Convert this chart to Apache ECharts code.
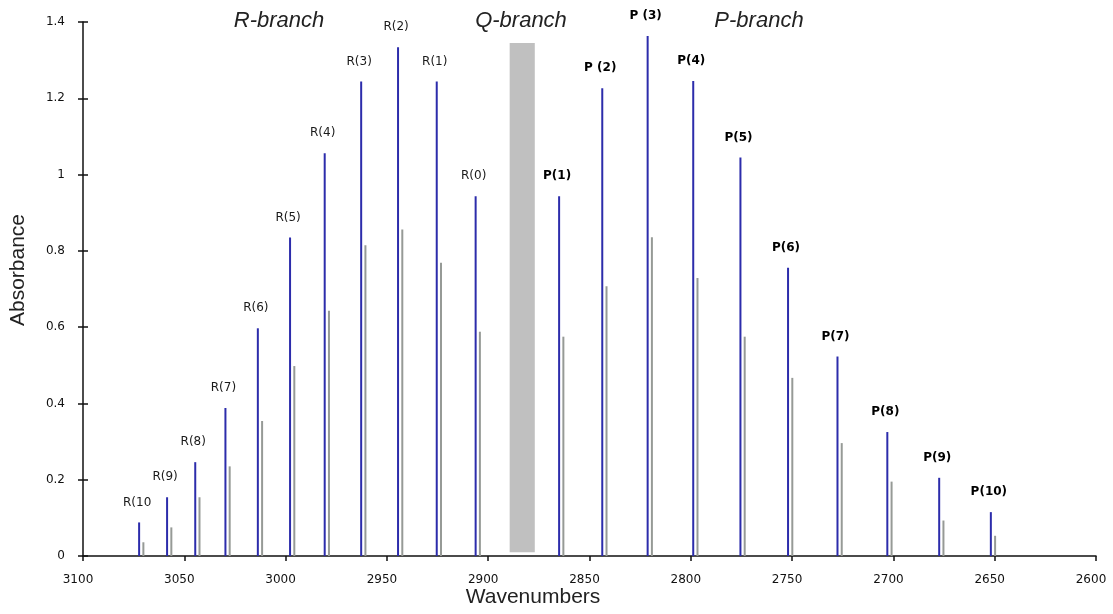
<!DOCTYPE html>
<html>
<head>
<meta charset="utf-8">
<script src="https://cdn.jsdelivr.net/npm/echarts@6/dist/echarts.min.js"></script>
<style>
html,body{margin:0;padding:0;background:#fff;}
#chart{width:1113px;height:614px;}
</style>
</head>
<body>
<div id="chart"></div>
<script>
// ---- data ----
var rLabels = ['R(10','R(9)','R(8)','R(7)','R(6)','R(5)','R(4)','R(3)','R(2)','R(1)','R(0)'];
var rWave = [3072.3, 3058.5, 3044.6, 3029.7, 3013.7, 2997.8, 2980.7, 2962.7, 2944.5, 2925.4, 2906.2];
var rBlue = [0.088, 0.154, 0.246, 0.388, 0.597, 0.835, 1.056, 1.244, 1.334, 1.244, 0.943];
var rGrayWave = [3070.2, 3056.4, 3042.5, 3027.6, 3011.6, 2995.7, 2978.6, 2960.6, 2942.4, 2923.3, 2904.1];
var rGray = [0.036, 0.075, 0.154, 0.235, 0.354, 0.498, 0.643, 0.815, 0.856, 0.769, 0.588];

var pLabels = ['P(1)','P (2)','P (3)','P(4)','P(5)','P(6)','P(7)','P(8)','P(9)','P(10)'];
var pWave = [2865.0, 2843.7, 2821.3, 2798.8, 2775.5, 2752.0, 2727.6, 2703.0, 2677.4, 2651.9];
var pBlue = [0.943, 1.226, 1.363, 1.245, 1.045, 0.756, 0.523, 0.325, 0.205, 0.115];
var pGrayWave = [2862.9, 2841.6, 2819.2, 2796.7, 2773.4, 2749.9, 2725.5, 2700.9, 2675.3, 2649.8];
var pGray = [0.575, 0.707, 0.836, 0.729, 0.575, 0.467, 0.296, 0.195, 0.093, 0.053];

var qBandWave = [2889.4, 2877.0];
var qBandAbs = [0.01, 1.345];

var xTicks = [2600, 3100, 50];
var yTicks = [0, 1.4, 0.2];

var branchTitles = ['R-branch', 'Q-branch', 'P-branch'];
var xName = 'Wavenumbers';
var yName = 'Absorbance';

// ---- chart ----
var BLUE = '#2c2cab';
var GRAY = '#969a96';

function zip(a, b) { return a.map(function (v, i) { return [v, b[i]]; }); }

function stickRenderer(color, labels, bold) {
  return function (params, api) {
    var x = api.value(0), y = api.value(1);
    var p0 = api.coord([x, 0]);
    var p1 = api.coord([x, y]);
    var children = [{
      type: 'line',
      shape: { x1: p0[0], y1: p0[1], x2: p1[0], y2: p1[1] },
      style: { stroke: color, lineWidth: 2 }
    }];
    if (labels) {
      children.push({
        type: 'text',
        style: {
          text: labels[params.dataIndex],
          x: p1[0] - 2, y: p1[1] - 20,
          align: 'center', verticalAlign: 'middle',
          fontSize: 12, fontFamily: 'DejaVu Sans',
          fontWeight: bold ? 'bold' : 'normal',
          fill: bold ? '#000' : '#1a1a1a'
        }
      });
    }
    return { type: 'group', children: children };
  };
}

var chart = echarts.init(document.getElementById('chart'));
var option = {
  animation: false,
  backgroundColor: '#fff',
  grid: { left: 83, right: 17, top: 22, bottom: 58 },
  xAxis: {
    type: 'value', min: xTicks[0], max: xTicks[1], interval: xTicks[2], inverse: true,
    splitLine: { show: false },
    axisLine: { onZero: false, lineStyle: { color: '#111', width: 1.5 } },
    axisTick: { length: 5, lineStyle: { color: '#111', width: 1.5 } },
    axisLabel: { color: '#111', fontSize: 12, fontFamily: 'DejaVu Sans', margin: 18, padding: [0, 10, 0, 0],
      formatter: function (v) { return String(v); } }
  },
  yAxis: [{
    type: 'value', min: yTicks[0], max: yTicks[1], interval: yTicks[2],
    splitLine: { show: false },
    axisLine: { show: true, lineStyle: { color: '#111', width: 1.5 } },
    axisTick: { show: true, length: 5, lineStyle: { color: '#111', width: 1.5 } },
    axisLabel: { color: '#111', fontSize: 12, fontFamily: 'DejaVu Sans', margin: 18,
      formatter: function (v) { return String(Math.round(v * 10) / 10); } }
  }, {
    type: 'value', min: yTicks[0], max: yTicks[1], interval: yTicks[2], position: 'left',
    splitLine: { show: false },
    axisLine: { show: false },
    axisTick: { show: true, inside: true, length: 5, lineStyle: { color: '#111', width: 1.5 } },
    axisLabel: { show: false }
  }],
  series: [
    {
      type: 'custom', name: 'Q',
      data: [[qBandWave[0], qBandWave[1], qBandAbs[0], qBandAbs[1]]],
      encode: { x: [0, 1], y: [2, 3] },
      renderItem: function (params, api) {
        var a = api.coord([api.value(0), api.value(3)]);
        var b = api.coord([api.value(1), api.value(2)]);
        return {
          type: 'rect',
          shape: { x: Math.min(a[0], b[0]), y: a[1], width: Math.abs(b[0] - a[0]), height: b[1] - a[1] },
          style: { fill: '#c0c0c0' }
        };
      }
    },
    { type: 'custom', name: 'Rgray', data: zip(rGrayWave, rGray), renderItem: stickRenderer(GRAY, null) },
    { type: 'custom', name: 'Pgray', data: zip(pGrayWave, pGray), renderItem: stickRenderer(GRAY, null) },
    { type: 'custom', name: 'R', data: zip(rWave, rBlue), renderItem: stickRenderer(BLUE, rLabels, false) },
    { type: 'custom', name: 'P', data: zip(pWave, pBlue), renderItem: stickRenderer(BLUE, pLabels, true) }
  ],
  graphic: [
    { type: 'text', x: 279, y: 21, style: { text: branchTitles[0], align: 'center', verticalAlign: 'middle', fontSize: 22, fontStyle: 'italic', fontFamily: 'Liberation Sans', fill: '#222' } },
    { type: 'text', x: 521, y: 21, style: { text: branchTitles[1], align: 'center', verticalAlign: 'middle', fontSize: 22, fontStyle: 'italic', fontFamily: 'Liberation Sans', fill: '#222' } },
    { type: 'text', x: 759, y: 21, style: { text: branchTitles[2], align: 'center', verticalAlign: 'middle', fontSize: 22, fontStyle: 'italic', fontFamily: 'Liberation Sans', fill: '#222' } },
    { type: 'text', x: 533, y: 597, style: { text: xName, align: 'center', verticalAlign: 'middle', fontSize: 21, fontFamily: 'Liberation Sans', fill: '#222' } },
    { type: 'text', x: 18, y: 270, rotation: Math.PI / 2, style: { text: yName, align: 'center', verticalAlign: 'middle', fontSize: 21, fontFamily: 'Liberation Sans', fill: '#222' } }
  ]
};
chart.setOption(option);
</script>
</body>
</html>
